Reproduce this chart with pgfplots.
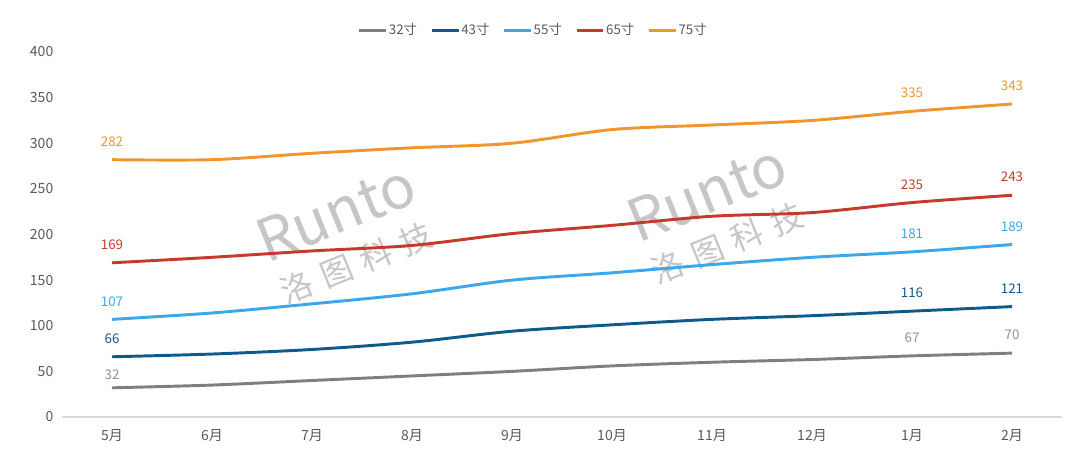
\documentclass[border=0pt]{standalone}
\usepackage{pgfplots}
\pgfplotsset{compat=1.18}
\usepackage{fontspec}
\setmainfont{Noto Sans CJK SC}
\definecolor{c32}{HTML}{7F7F7F}
\definecolor{c43}{HTML}{0E5A8A}
\definecolor{c55}{HTML}{3AA8EA}
\definecolor{c65}{HTML}{C53A2C}
\definecolor{c75}{HTML}{F0962C}
\definecolor{tickc}{HTML}{595959}
\definecolor{axisc}{HTML}{D9D9D9}
\definecolor{wm}{HTML}{B8B8B8}
\begin{document}
\begin{tikzpicture}
\useasboundingbox (-46.5pt,-40.5pt) rectangle (763.5pt,312.75pt);
\begin{axis}[
  at={(0,0)}, anchor=south west,
  width=750pt, height=273.75pt, scale only axis,
  xmin=-0.5, xmax=9.5, ymin=0, ymax=400,
  xtick={0,...,9},
  xticklabels={5月,6月,7月,8月,9月,10月,11月,12月,1月,2月},
  ytick={0,50,...,400},
  axis x line*=bottom, axis y line*=left,
  x axis line style={draw=axisc, line width=0.8pt, -},
  y axis line style={draw=none},
  major tick length=0pt,
  tick style={draw=none},
  /pgf/number format/assume math mode=true,
  ticklabel style={font=\fontsize{10.5}{12}\selectfont, text=tickc},
  yticklabel style={xshift=-3pt},
  xticklabel style={yshift=-6pt},
  legend style={draw=none, fill=none, at={(0.471,1.06)}, anchor=center,
    font=\fontsize{10}{12}\selectfont, text=tickc,
    /tikz/every even column/.append style={column sep=9pt},
    nodes={inner xsep=1pt}},
  legend columns=5,
  legend image code/.code={\draw[#1] (0pt,0pt) -- (20pt,0pt);},
  every axis plot/.append style={line width=2.2pt, smooth, tension=0.5},
  nodes near coords style={font=\fontsize{10}{12}\selectfont, inner sep=0pt, anchor=base, yshift=10pt},
]
% watermark
\node[rotate=22, text=wm, opacity=0.8, align=center, font=\fontsize{44}{40}\selectfont] at (axis cs:2.33,200) {Runto\\[-6pt]{\fontsize{24}{26}\selectfont 洛\,\,图\,\,科\,\,技}};
\node[rotate=22, text=wm, opacity=0.8, align=center, font=\fontsize{44}{40}\selectfont] at (axis cs:6.04,222) {Runto\\[-6pt]{\fontsize{24}{26}\selectfont 洛\,\,图\,\,科\,\,技}};

\addplot[c32] coordinates {(0,32)(1,35)(2,40)(3,45)(4,50)(5,56)(6,60)(7,63)(8,67)(9,70)};
\addlegendentry{32寸}
\addplot[c43] coordinates {(0,66)(1,69)(2,74)(3,82)(4,94)(5,101)(6,107)(7,111)(8,116)(9,121)};
\addlegendentry{43寸}
\addplot[c55] coordinates {(0,107)(1,114)(2,124)(3,135)(4,150)(5,158)(6,167)(7,175)(8,181)(9,189)};
\addlegendentry{55寸}
\addplot[c65] coordinates {(0,169)(1,175)(2,182)(3,188)(4,201)(5,210)(6,220)(7,224)(8,235)(9,243)};
\addlegendentry{65寸}
\addplot[c75] coordinates {(0,282)(1,282)(2,289)(3,295)(4,300)(5,315)(6,320)(7,325)(8,335)(9,343)};
\addlegendentry{75寸}

% data labels
\addplot[draw=none, nodes near coords, every node near coord/.append style={text=c32!85!white, yshift=-4pt}, forget plot] coordinates {(0,32)};
\addplot[draw=none, nodes near coords, every node near coord/.append style={text=c32!85!white}, forget plot] coordinates {(8,67)(9,70)};
\addplot[draw=none, nodes near coords, every node near coord/.append style={text=c43}, forget plot] coordinates {(0,66)(8,116)(9,121)};
\addplot[draw=none, nodes near coords, every node near coord/.append style={text=c55}, forget plot] coordinates {(0,107)(8,181)(9,189)};
\addplot[draw=none, nodes near coords, every node near coord/.append style={text=c65}, forget plot] coordinates {(0,169)(8,235)(9,243)};
\addplot[draw=none, nodes near coords, every node near coord/.append style={text=c75}, forget plot] coordinates {(0,282)(8,335)(9,343)};
\end{axis}
\end{tikzpicture}
\end{document}
